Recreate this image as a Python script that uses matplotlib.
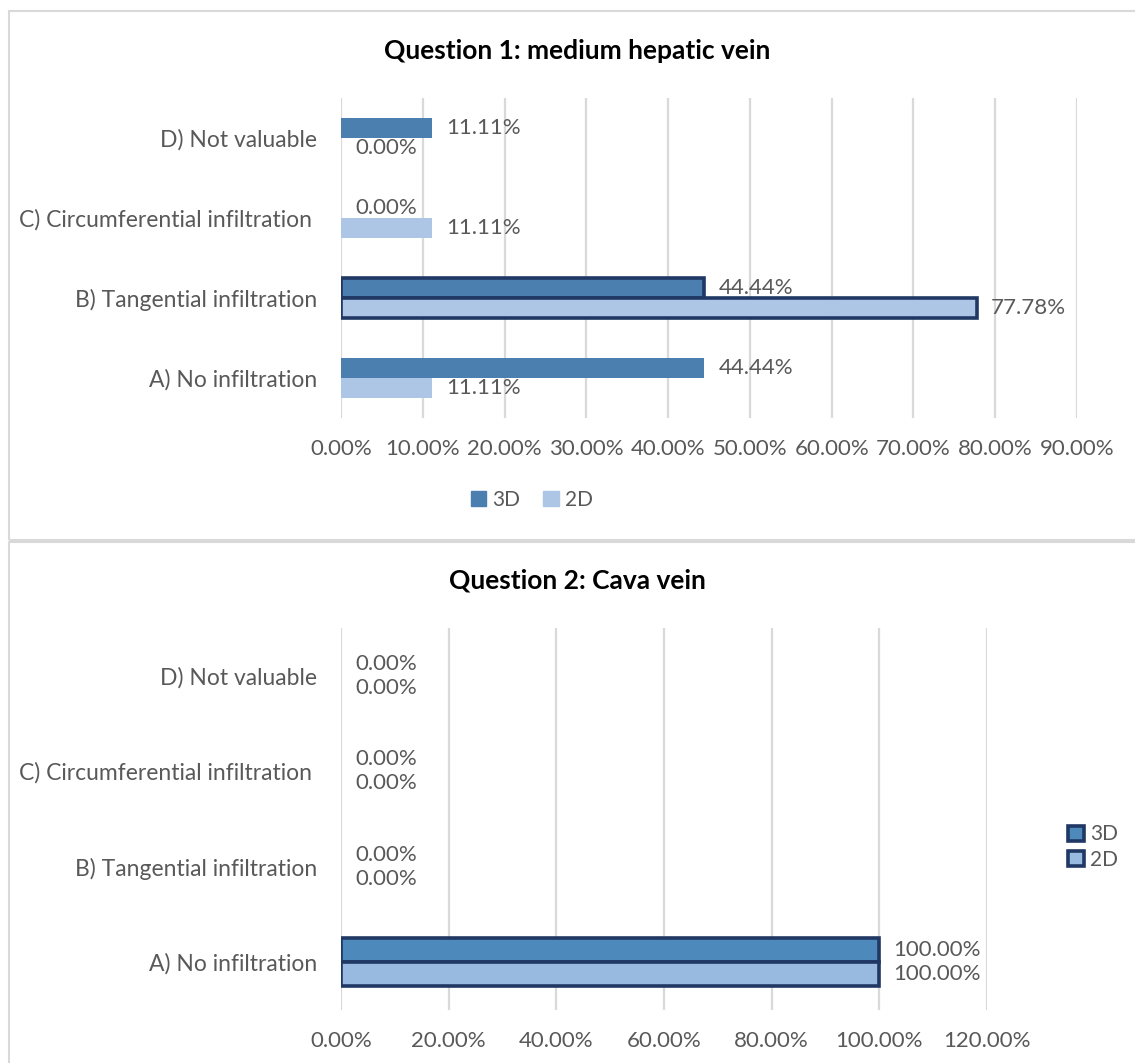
import numpy as np
import matplotlib
matplotlib.use('Agg')
import matplotlib.pyplot as plt
from matplotlib.patches import Patch, Rectangle

plt.rcParams['font.family'] = ['Lato', 'DejaVu Sans']

# answers, bottom-to-top
cats = ['A) No infiltration', 'B) Tangential infiltration',
        'C) Circumferential infiltration ', 'D) Not valuable']
q1_3d = [44.44, 44.44, 0.00, 11.11]
q1_2d = [11.11, 77.78, 11.11, 0.00]
q2_3d = [100.00, 0.00, 0.00, 0.00]
q2_2d = [100.00, 0.00, 0.00, 0.00]
q1_ticks = np.arange(0, 91, 10)
q2_ticks = np.arange(0, 121, 20)

W, H = 1135, 1063
TXT = '#595959'; GRID = '#d9d9d9'; EDGE = '#203864'
fig = plt.figure(figsize=(W/100, H/100), dpi=100)


def px_axes(x0, y0, x1, y1):
    return fig.add_axes([x0/W, 1-y1/H, (x1-x0)/W, (y1-y0)/H])


# panel frames
for (y0, y1) in [(11, 540), (542, 1063+5)]:
    fig.patches.append(Rectangle((9/W, 1-y1/H), (W+10-9)/W, (y1-y0)/H, transform=fig.transFigure,
                                 fill=False, ec=GRID, lw=1.5))


def panel(ax, v3, v2, ticks, xmax, c3, c2, outline, title, title_y):
    y = np.arange(len(cats))
    h = 0.25
    for i in range(len(cats)):
        for val, yy, c in [(v3[i], y[i]+h/2, c3), (v2[i], y[i]-h/2, c2)]:
            edged = outline[i] and val > 0
            ax.barh(yy, val, h, color=c, ec=EDGE if edged else 'none',
                    lw=2.6 if edged else 0, zorder=3)
            ax.annotate(f'{val:.2f}%', (val, yy), xytext=(10, 0), textcoords='offset points',
                        va='center', ha='left', fontsize=16, color=TXT, zorder=4)
    ax.set_xlim(0, xmax); ax.set_ylim(-0.5, len(cats)-0.5)
    ax.set_xticks(ticks); ax.set_xticklabels([f'{t:.2f}%' for t in ticks], fontsize=16)
    ax.set_yticks(y); ax.set_yticklabels(cats, fontsize=16.5)
    ax.tick_params(length=0, labelcolor=TXT)
    ax.tick_params(axis='x', pad=15); ax.tick_params(axis='y', pad=17)
    ax.grid(axis='x', color=GRID, lw=1.6, zorder=0)
    for s in ax.spines.values(): s.set_visible(False)
    fig.text(577/W, 1-title_y/H, title, ha='center', va='center', fontsize=19,
             fontweight='bold', color='black')


ax1 = px_axes(341, 98, 1077, 418)
panel(ax1, q1_3d, q1_2d, q1_ticks, 90, '#4a7fb0', '#adc6e6',
      [False, True, False, False], 'Question 1: medium hepatic vein', 51)
fig.legend(handles=[Patch(color='#4a7fb0', label='3D'), Patch(color='#adc6e6', label='2D')],
           loc='center', bbox_to_anchor=(532/W, 1-500/H), ncol=2, frameon=False,
           fontsize=15, labelcolor=TXT, handlelength=0.75, handleheight=0.75,
           handletextpad=0.3, columnspacing=1.1)

ax2 = px_axes(341, 628, 987, 1010)
panel(ax2, q2_3d, q2_2d, q2_ticks, 120, '#4e89bc', '#98b9e0',
      [True, True, True, True], 'Question 2: Cava vein', 581)
fig.legend(handles=[Patch(fc='#4e89bc', ec=EDGE, lw=2.6, label='3D'),
                    Patch(fc='#98b9e0', ec=EDGE, lw=2.6, label='2D')],
           loc='center', bbox_to_anchor=(1093/W, 1-847/H), ncol=1, frameon=False,
           fontsize=15, labelcolor=TXT, handlelength=0.75, handleheight=0.75,
           handletextpad=0.3, labelspacing=0.25)

fig.savefig('out.png', dpi=100)
